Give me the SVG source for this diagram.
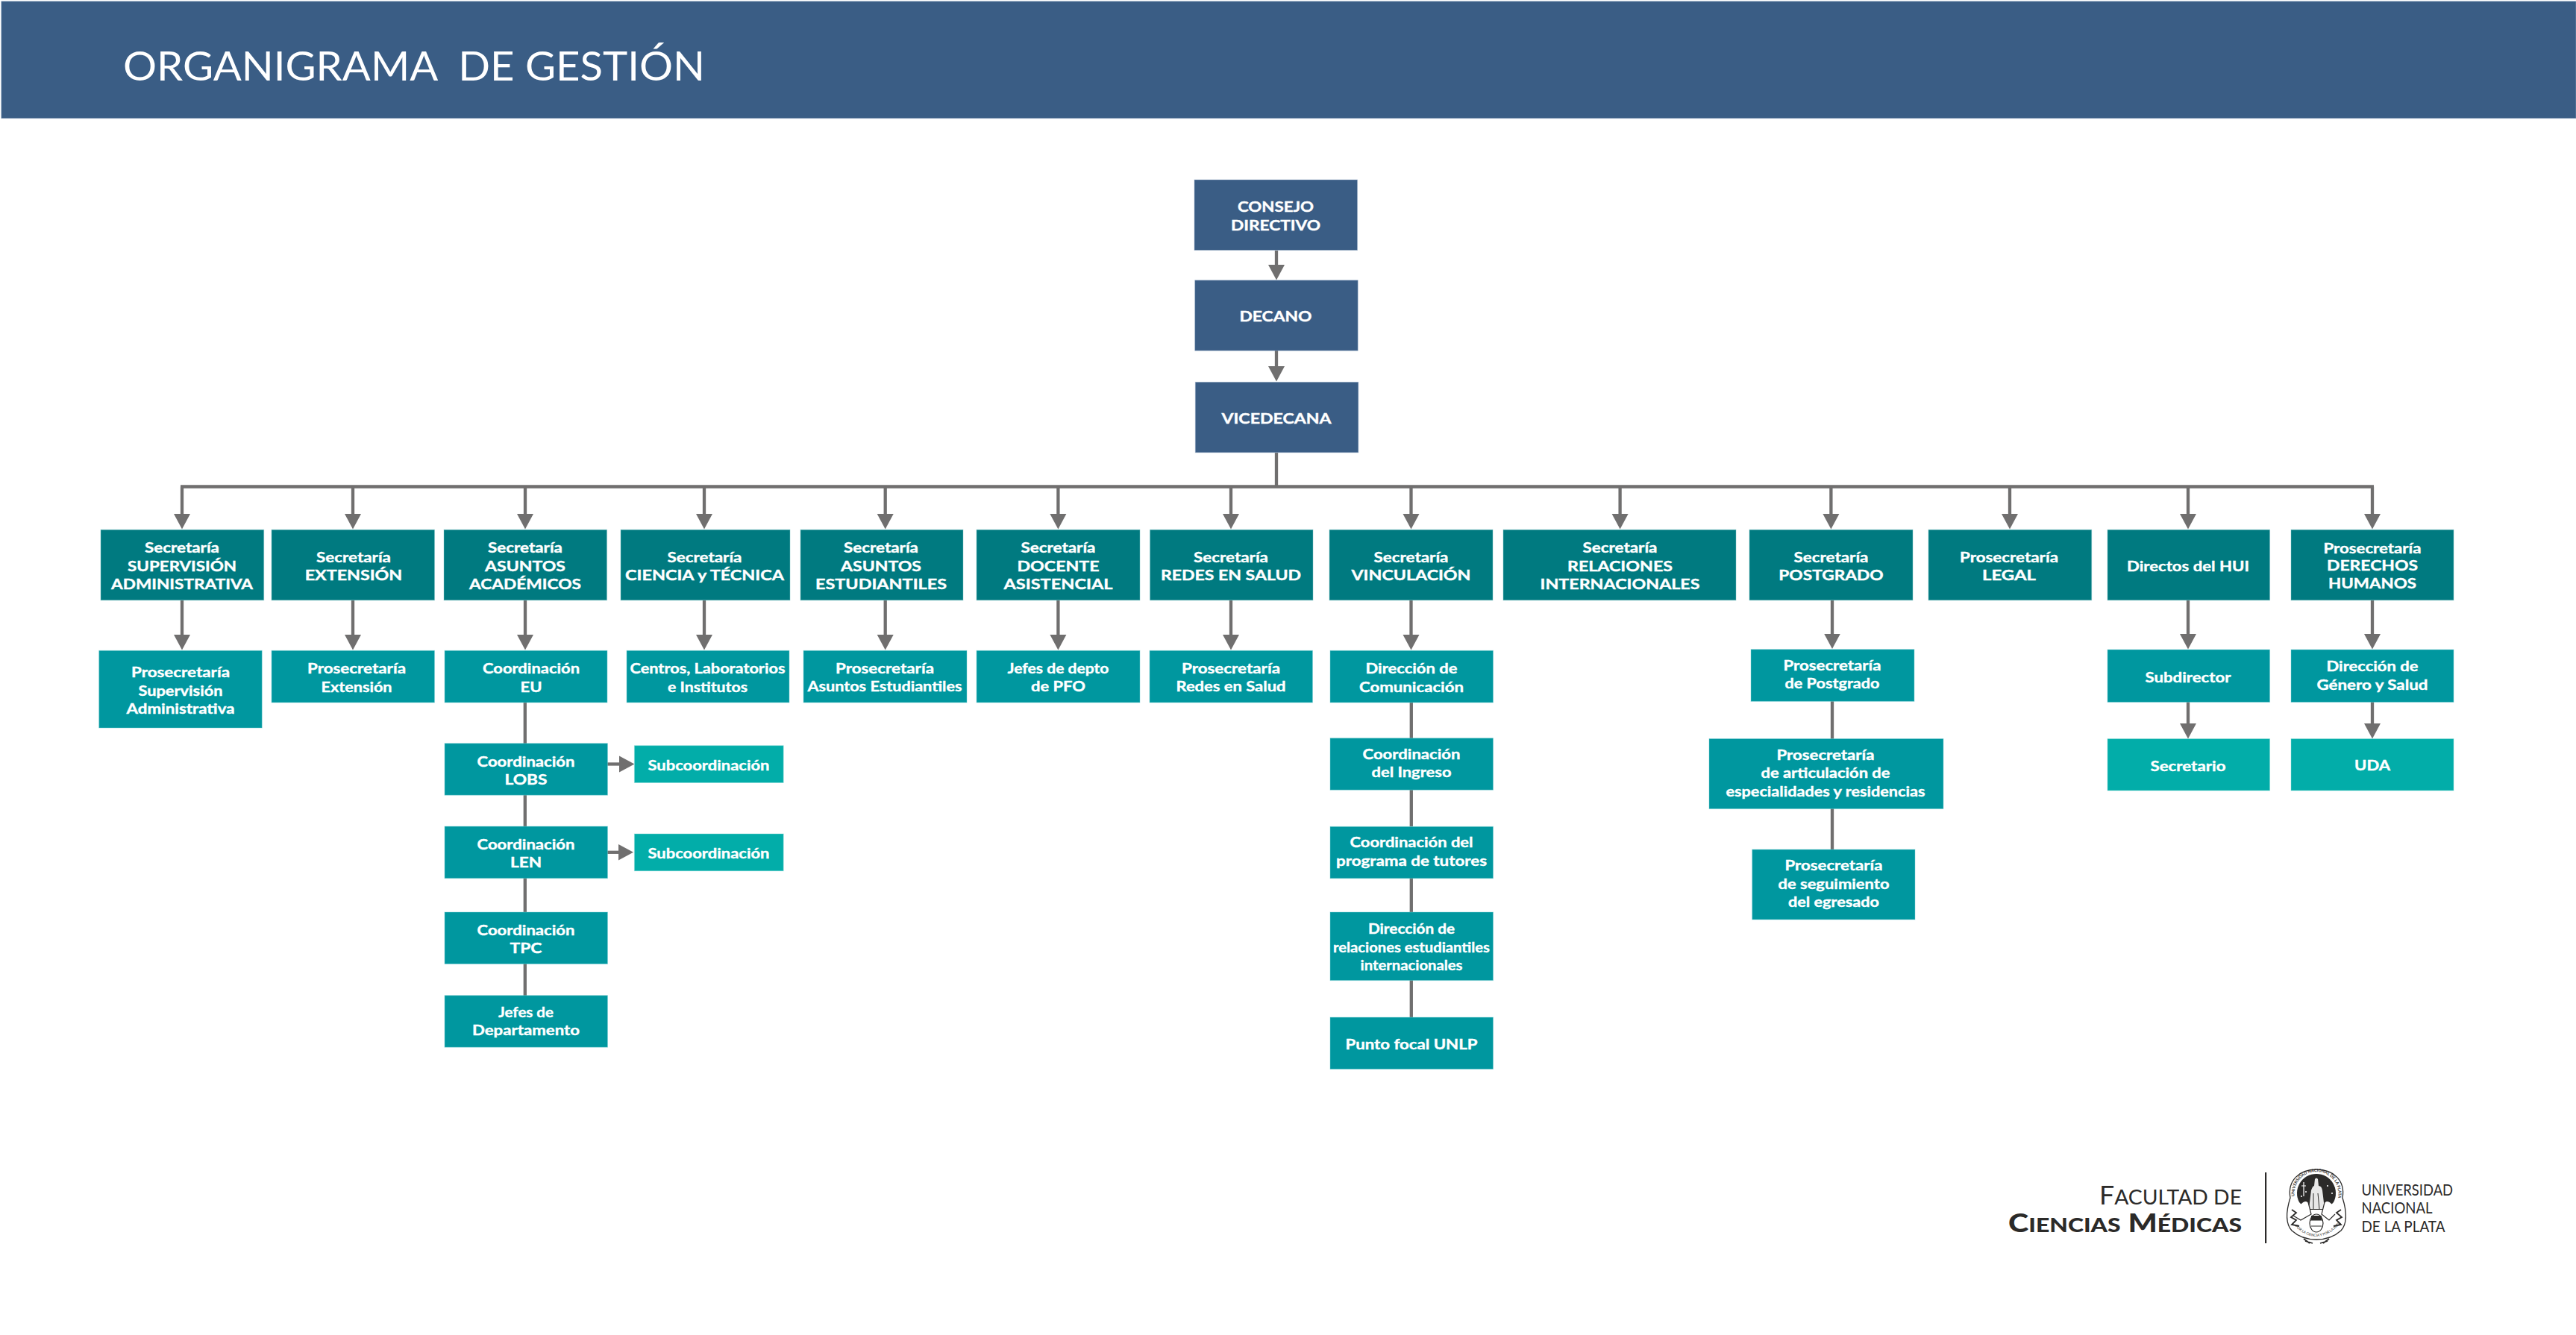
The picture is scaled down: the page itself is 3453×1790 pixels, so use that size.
<svg xmlns="http://www.w3.org/2000/svg" width="3453" height="1790" viewBox="0 0 3453 1790">
<style>
text{font-family:Lato,"Open Sans","Liberation Sans",sans-serif}
rect.l1,rect.l2,rect.l3,rect.l4{stroke-width:1;stroke-opacity:.45}
.l1{fill:#3a5d85;stroke:#9fb4cc}.l2{fill:#007a80;stroke:#7fc4c6}.l3{fill:#00979f;stroke:#7fd0d4}.l4{fill:#02ada9;stroke:#8adcd8}
.t{fill:#fff;font-size:19.5px;font-weight:700;text-anchor:middle;stroke:#fff;stroke-width:.4;transform:translateY(1px)}
.c{stroke:#706f6f;stroke-width:4.3;fill:none}
.a{stroke:#706f6f;stroke-width:4.3;fill:none;marker-end:url(#h)}
.logo{fill:#2b2a29;text-anchor:end}
.un{fill:#2b2a29;font-size:22px;font-weight:400}
</style>
<defs><marker id="h" markerUnits="userSpaceOnUse" markerWidth="22" markerHeight="24" refX="1" refY="12" orient="auto" viewBox="0 0 22 24"><path d="M0 1L20.500 12L0 23Z" fill="#706f6f"/></marker>
<path id="arcT" d="M3076 1606A29.500 29.500 0 1 1 3134 1606"/>
<path id="arcB" d="M3072 1640Q3105 1676 3138 1640"/></defs>
<rect width="3453" height="1790" fill="#fff"/>
<g id="header"><rect class="l1" x="1.700" y="1.700" width="3451.300" height="157"/>
<text x="165" y="108.300" xml:space="preserve" fill="#fff" font-size="55" textLength="780" lengthAdjust="spacingAndGlyphs">ORGANIGRAMA  DE GESTIÓN</text></g>
<g id="connectors">
<path class="c" d="M1711 607V652.500M242 652.500H3182"/>
<path class="a" d="M244 652.500V690"/><path class="a" d="M473 652.500V690"/><path class="a" d="M704 652.500V690"/><path class="a" d="M944 652.500V690"/><path class="a" d="M1186.700 652.500V690"/><path class="a" d="M1418.400 652.500V690"/><path class="a" d="M1650 652.500V690"/><path class="a" d="M1891.500 652.500V690"/><path class="a" d="M2171.600 652.500V690"/><path class="a" d="M2454.400 652.500V690"/><path class="a" d="M2694 652.500V690"/><path class="a" d="M2933 652.500V690"/><path class="a" d="M3180 652.500V690"/>
<path class="a" d="M1711 336V356"/><path class="a" d="M1711 470V492"/>
<path class="a" d="M244 805V852"/><path class="a" d="M473 805V852"/><path class="a" d="M704 805V852"/><path class="a" d="M944 805V852"/><path class="a" d="M1186.700 805V852"/><path class="a" d="M1418.400 805V852"/><path class="a" d="M1650 805V852"/><path class="a" d="M1891.500 805V852"/><path class="a" d="M2456 805V850.500"/><path class="a" d="M2933 805V851"/><path class="a" d="M3180 805V851"/>
<path class="a" d="M2933 941V971"/><path class="a" d="M3180 941V971"/>
<path class="a" d="M814 1024.500H831"/><path class="a" d="M814 1142.800H829.500"/>
<path class="c" d="M703.800 942V997M703.800 1066V1108M703.800 1177V1223M703.800 1292V1335"/>
<path class="c" d="M1891.800 942V990M1891.800 1059V1108M1891.800 1177V1223M1891.800 1314V1364"/>
<path class="c" d="M2456 940V991M2456 1084V1139"/>
</g>
<g id="consejo"><rect class="l1" x="1601" y="241" width="218.500" height="94.500"/><text class="t" x="1710" y="283.300" textLength="102" lengthAdjust="spacingAndGlyphs">CONSEJO</text><text class="t" x="1710" y="308.300" textLength="120" lengthAdjust="spacingAndGlyphs">DIRECTIVO</text></g>
<g id="decano"><rect class="l1" x="1601.700" y="375.700" width="218.500" height="94.500"/><text class="t" x="1710" y="430" textLength="97" lengthAdjust="spacingAndGlyphs">DECANO</text></g>
<g id="vicedecana"><rect class="l1" x="1602.300" y="512.300" width="218.500" height="94.500"/><text class="t" x="1711" y="566.700" textLength="147" lengthAdjust="spacingAndGlyphs">VICEDECANA</text></g>

<g id="sec-supervision"><rect class="l2" x="135" y="710.300" width="218.700" height="94.500"/><text class="t" x="244" y="740" textLength="100" lengthAdjust="spacingAndGlyphs">Secretaría</text><text class="t" x="244" y="765" textLength="146" lengthAdjust="spacingAndGlyphs">SUPERVISIÓN</text><text class="t" x="244" y="789.300" textLength="190" lengthAdjust="spacingAndGlyphs">ADMINISTRATIVA</text></g>
<g id="sec-extension"><rect class="l2" x="364" y="710.300" width="218.500" height="94.500"/><text class="t" x="474" y="753" textLength="100" lengthAdjust="spacingAndGlyphs">Secretaría</text><text class="t" x="474" y="777" textLength="130.500" lengthAdjust="spacingAndGlyphs">EXTENSIÓN</text></g>
<g id="sec-academicos"><rect class="l2" x="595" y="710.300" width="218.500" height="94.500"/><text class="t" x="704" y="740" textLength="100" lengthAdjust="spacingAndGlyphs">Secretaría</text><text class="t" x="704" y="765" textLength="108" lengthAdjust="spacingAndGlyphs">ASUNTOS</text><text class="t" x="704" y="789.300" textLength="150" lengthAdjust="spacingAndGlyphs">ACADÉMICOS</text></g>
<g id="sec-ciencia"><rect class="l2" x="832" y="710.300" width="227" height="94.500"/><text class="t" x="944.500" y="753" textLength="100" lengthAdjust="spacingAndGlyphs">Secretaría</text><text class="t" x="944.500" y="777" textLength="213" lengthAdjust="spacingAndGlyphs">CIENCIA y TÉCNICA</text></g>
<g id="sec-estudiantiles"><rect class="l2" x="1073" y="710.300" width="218" height="94.500"/><text class="t" x="1181" y="740" textLength="100" lengthAdjust="spacingAndGlyphs">Secretaría</text><text class="t" x="1181" y="764.500" textLength="108" lengthAdjust="spacingAndGlyphs">ASUNTOS</text><text class="t" x="1181" y="789" textLength="176" lengthAdjust="spacingAndGlyphs">ESTUDIANTILES</text></g>
<g id="sec-docente"><rect class="l2" x="1309" y="710.300" width="219" height="94.500"/><text class="t" x="1418.500" y="740" textLength="100" lengthAdjust="spacingAndGlyphs">Secretaría</text><text class="t" x="1418.500" y="764.500" textLength="110" lengthAdjust="spacingAndGlyphs">DOCENTE</text><text class="t" x="1418.500" y="789" textLength="146" lengthAdjust="spacingAndGlyphs">ASISTENCIAL</text></g>
<g id="sec-redes"><rect class="l2" x="1541.500" y="710.300" width="218.500" height="94.500"/><text class="t" x="1650" y="752.500" textLength="100" lengthAdjust="spacingAndGlyphs">Secretaría</text><text class="t" x="1650" y="776.500" textLength="188" lengthAdjust="spacingAndGlyphs">REDES EN SALUD</text></g>
<g id="sec-vinculacion"><rect class="l2" x="1782" y="710.300" width="219" height="94.500"/><text class="t" x="1891.500" y="752.500" textLength="100" lengthAdjust="spacingAndGlyphs">Secretaría</text><text class="t" x="1891.500" y="776.500" textLength="160" lengthAdjust="spacingAndGlyphs">VINCULACIÓN</text></g>
<g id="sec-relaciones"><rect class="l2" x="2015" y="710.300" width="312" height="94.500"/><text class="t" x="2171.500" y="740" textLength="100" lengthAdjust="spacingAndGlyphs">Secretaría</text><text class="t" x="2171.500" y="764.500" textLength="141" lengthAdjust="spacingAndGlyphs">RELACIONES</text><text class="t" x="2171.500" y="789" textLength="214" lengthAdjust="spacingAndGlyphs">INTERNACIONALES</text></g>
<g id="sec-postgrado"><rect class="l2" x="2345" y="710.300" width="219" height="94.500"/><text class="t" x="2454.500" y="752.700" textLength="100" lengthAdjust="spacingAndGlyphs">Secretaría</text><text class="t" x="2454.500" y="776.800" textLength="140.400" lengthAdjust="spacingAndGlyphs">POSTGRADO</text></g>
<g id="pro-legal"><rect class="l2" x="2585" y="710.300" width="218.700" height="94.500"/><text class="t" x="2693" y="752.700" textLength="132" lengthAdjust="spacingAndGlyphs">Prosecretaría</text><text class="t" x="2693" y="776.800" textLength="72" lengthAdjust="spacingAndGlyphs">LEGAL</text></g>
<g id="directos-hui"><rect class="l2" x="2825" y="710.300" width="217.600" height="94.500"/><text class="t" x="2933" y="765" textLength="164" lengthAdjust="spacingAndGlyphs">Directos del HUI</text></g>
<g id="pro-ddhh"><rect class="l2" x="3071" y="710.300" width="218" height="94.500"/><text class="t" x="3180" y="740.600" textLength="131" lengthAdjust="spacingAndGlyphs">Prosecretaría</text><text class="t" x="3180" y="764.300" textLength="122" lengthAdjust="spacingAndGlyphs">DERECHOS</text><text class="t" x="3180" y="788.300" textLength="118" lengthAdjust="spacingAndGlyphs">HUMANOS</text></g>

<g id="pro-supervision"><rect class="l3" x="132.700" y="872.300" width="218.500" height="103.700"/><text class="t" x="242" y="906.700" textLength="132" lengthAdjust="spacingAndGlyphs">Prosecretaría</text><text class="t" x="242" y="931.500" textLength="113" lengthAdjust="spacingAndGlyphs">Supervisión</text><text class="t" x="242" y="955.700" textLength="145" lengthAdjust="spacingAndGlyphs">Administrativa</text></g>
<g id="pro-extension"><rect class="l3" x="364" y="872.300" width="218.500" height="69.700"/><text class="t" x="478" y="902.400" textLength="132" lengthAdjust="spacingAndGlyphs">Prosecretaría</text><text class="t" x="478" y="926.600" textLength="95" lengthAdjust="spacingAndGlyphs">Extensión</text></g>
<g id="coord-eu"><rect class="l3" x="596" y="872.300" width="218" height="69.700"/><text class="t" x="712" y="902.400" textLength="130" lengthAdjust="spacingAndGlyphs">Coordinación</text><text class="t" x="712" y="926.600" textLength="29" lengthAdjust="spacingAndGlyphs">EU</text></g>
<g id="centros"><rect class="l3" x="840" y="872.300" width="218" height="69.700"/><text class="t" x="948.500" y="902.400" textLength="208" lengthAdjust="spacingAndGlyphs">Centros, Laboratorios</text><text class="t" x="948.500" y="926.600" textLength="107" lengthAdjust="spacingAndGlyphs">e Institutos</text></g>
<g id="pro-estudiantiles"><rect class="l3" x="1077" y="872.300" width="219" height="69.700"/><text class="t" x="1186" y="901.500" textLength="132" lengthAdjust="spacingAndGlyphs">Prosecretaría</text><text class="t" x="1186" y="926" textLength="207" lengthAdjust="spacingAndGlyphs">Asuntos Estudiantiles</text></g>
<g id="jefes-pfo"><rect class="l3" x="1309" y="872.300" width="219" height="69.700"/><text class="t" x="1418.500" y="901.500" textLength="136" lengthAdjust="spacingAndGlyphs">Jefes de depto</text><text class="t" x="1418.500" y="926" textLength="73" lengthAdjust="spacingAndGlyphs">de PFO</text></g>
<g id="pro-redes"><rect class="l3" x="1541" y="872.300" width="218.500" height="69.700"/><text class="t" x="1650" y="901.500" textLength="132" lengthAdjust="spacingAndGlyphs">Prosecretaría</text><text class="t" x="1650" y="926" textLength="147" lengthAdjust="spacingAndGlyphs">Redes en Salud</text></g>
<g id="dir-comunicacion"><rect class="l3" x="1783" y="872.300" width="218.500" height="69.700"/><text class="t" x="1892" y="902" textLength="123" lengthAdjust="spacingAndGlyphs">Dirección de</text><text class="t" x="1892" y="927" textLength="140" lengthAdjust="spacingAndGlyphs">Comunicación</text></g>
<g id="coord-ingreso"><rect class="l3" x="1783" y="989.700" width="218.500" height="69.500"/><text class="t" x="1892" y="1017" textLength="131" lengthAdjust="spacingAndGlyphs">Coordinación</text><text class="t" x="1892" y="1041" textLength="107" lengthAdjust="spacingAndGlyphs">del Ingreso</text></g>
<g id="coord-tutores"><rect class="l3" x="1783" y="1108.300" width="218.500" height="69.500"/><text class="t" x="1892" y="1135" textLength="165" lengthAdjust="spacingAndGlyphs">Coordinación del</text><text class="t" x="1892" y="1160" textLength="202" lengthAdjust="spacingAndGlyphs">programa de tutores</text></g>
<g id="dir-relaciones"><rect class="l3" x="1783" y="1223" width="218.500" height="91.600"/><text class="t" x="1892" y="1251" textLength="116" lengthAdjust="spacingAndGlyphs">Dirección de</text><text class="t" x="1892" y="1275.600" textLength="210" lengthAdjust="spacingAndGlyphs">relaciones estudiantiles</text><text class="t" x="1892" y="1300" textLength="137" lengthAdjust="spacingAndGlyphs">internacionales</text></g>
<g id="punto-focal"><rect class="l3" x="1783" y="1364" width="218.500" height="69.500"/><text class="t" x="1892" y="1405.600" textLength="177" lengthAdjust="spacingAndGlyphs">Punto focal UNLP</text></g>

<g id="coord-lobs"><rect class="l3" x="596" y="996.700" width="218.500" height="69.500"/><text class="t" x="705" y="1026.700" textLength="131" lengthAdjust="spacingAndGlyphs">Coordinación</text><text class="t" x="705" y="1051" textLength="57" lengthAdjust="spacingAndGlyphs">LOBS</text></g>
<g id="coord-len"><rect class="l3" x="596" y="1108" width="218.500" height="69.700"/><text class="t" x="705" y="1138.300" textLength="131" lengthAdjust="spacingAndGlyphs">Coordinación</text><text class="t" x="705" y="1162.300" textLength="42" lengthAdjust="spacingAndGlyphs">LEN</text></g>
<g id="coord-tpc"><rect class="l3" x="596" y="1223" width="218.500" height="69.500"/><text class="t" x="705" y="1253.300" textLength="131" lengthAdjust="spacingAndGlyphs">Coordinación</text><text class="t" x="705" y="1277.300" textLength="43" lengthAdjust="spacingAndGlyphs">TPC</text></g>
<g id="jefes-dep"><rect class="l3" x="596" y="1334.700" width="218.500" height="69.500"/><text class="t" x="705" y="1362.700" textLength="74" lengthAdjust="spacingAndGlyphs">Jefes de</text><text class="t" x="705" y="1387" textLength="144" lengthAdjust="spacingAndGlyphs">Departamento</text></g>
<g id="subcoord-1"><rect class="l4" x="850.400" y="999.700" width="199.800" height="49.800"/><text class="t" x="950" y="1031.700" textLength="163" lengthAdjust="spacingAndGlyphs">Subcoordinación</text></g>
<g id="subcoord-2"><rect class="l4" x="850.400" y="1118" width="199.800" height="49.800"/><text class="t" x="950" y="1150" textLength="163" lengthAdjust="spacingAndGlyphs">Subcoordinación</text></g>

<g id="pro-postgrado"><rect class="l3" x="2347" y="870.700" width="219" height="69.700"/><text class="t" x="2456" y="898" textLength="131" lengthAdjust="spacingAndGlyphs">Prosecretaría</text><text class="t" x="2456" y="922" textLength="127" lengthAdjust="spacingAndGlyphs">de Postgrado</text></g>
<g id="pro-articulacion"><rect class="l3" x="2291" y="990.500" width="314" height="94"/><text class="t" x="2447" y="1018" textLength="131" lengthAdjust="spacingAndGlyphs">Prosecretaría</text><text class="t" x="2447" y="1042.400" textLength="173" lengthAdjust="spacingAndGlyphs">de articulación de</text><text class="t" x="2447" y="1066.500" textLength="267" lengthAdjust="spacingAndGlyphs">especialidades y residencias</text></g>
<g id="pro-seguimiento"><rect class="l3" x="2348.700" y="1139" width="218.300" height="94"/><text class="t" x="2458" y="1166" textLength="131" lengthAdjust="spacingAndGlyphs">Prosecretaría</text><text class="t" x="2458" y="1191" textLength="149" lengthAdjust="spacingAndGlyphs">de seguimiento</text><text class="t" x="2458" y="1215" textLength="122" lengthAdjust="spacingAndGlyphs">del egresado</text></g>
<g id="subdirector"><rect class="l3" x="2825" y="871" width="217.600" height="70.500"/><text class="t" x="2933" y="914" textLength="115" lengthAdjust="spacingAndGlyphs">Subdirector</text></g>
<g id="dir-genero"><rect class="l3" x="3071" y="871" width="218" height="70.500"/><text class="t" x="3180" y="899" textLength="123" lengthAdjust="spacingAndGlyphs">Dirección de</text><text class="t" x="3180" y="923.600" textLength="149" lengthAdjust="spacingAndGlyphs">Género y Salud</text></g>
<g id="secretario"><rect class="l4" x="2825" y="990.600" width="217.600" height="69.400"/><text class="t" x="2933" y="1033" textLength="101" lengthAdjust="spacingAndGlyphs">Secretario</text></g>
<g id="uda"><rect class="l4" x="3071" y="990.600" width="218" height="69.400"/><text class="t" x="3180" y="1032" textLength="48" lengthAdjust="spacingAndGlyphs">UDA</text></g>

<g id="logo">
<text class="logo" x="3005" y="1614.700" font-size="34" font-weight="400" textLength="191" lengthAdjust="spacingAndGlyphs">F<tspan font-size="27">ACULTAD DE</tspan></text>
<text class="logo" x="3005" y="1651.700" font-size="35" font-weight="900" textLength="313" lengthAdjust="spacingAndGlyphs">C<tspan font-size="27">IENCIAS</tspan> M<tspan font-size="27">ÉDICAS</tspan></text>
<rect x="3036" y="1572" width="2.200" height="95" fill="#2b2a29"/>
<text class="un" x="3165.500" y="1603" textLength="122.600" lengthAdjust="spacingAndGlyphs">UNIVERSIDAD</text><text class="un" x="3165.500" y="1627" textLength="95" lengthAdjust="spacingAndGlyphs">NACIONAL</text><text class="un" x="3165.500" y="1651.700" textLength="112" lengthAdjust="spacingAndGlyphs">DE LA PLATA</text>
<g id="seal" fill="none" stroke="#2b2a29">
<path d="M3070 1606C3066 1583 3082 1568 3105 1568C3128 1568 3144 1583 3140 1606C3146 1625 3147 1640 3138 1650C3127 1660 3115 1662 3105 1662C3095 1662 3083 1660 3072 1650C3063 1640 3064 1625 3070 1606Z" stroke-width="1.300" fill="#fff"/>
<path d="M3082 1612A26 26 0 1 1 3128 1612L3118 1622H3092Z" fill="#2b2a29" stroke="none"/>
<path d="M3095 1621L3098 1596Q3100 1590 3102 1590L3103 1581Q3105 1578 3107 1581L3108 1590Q3112 1590 3113 1596L3116 1621Z" fill="#e8e8e8" stroke="none"/>
<path d="M3101 1600V1621M3107 1600L3109 1621" stroke-width="1"/>
<path d="M3088 1585V1604M3085 1590H3091" stroke="#fff" stroke-width="1.200"/>
<circle cx="3091" cy="1598" r="1" fill="#fff" stroke="none"/><circle cx="3120" cy="1590" r="1" fill="#fff" stroke="none"/><circle cx="3126" cy="1600" r="1" fill="#fff" stroke="none"/><circle cx="3085" cy="1604" r="1" fill="#fff" stroke="none"/>
<path d="M3084 1614Q3090 1608 3094 1612L3098 1628L3084 1636L3074 1630" stroke-width="1.200" fill="#fff"/>
<path d="M3126 1614Q3120 1608 3116 1612L3112 1628L3122 1636L3130 1628" stroke-width="1.200" fill="#fff"/>
<ellipse cx="3105" cy="1640" rx="9" ry="12" stroke-width="1.200" fill="#fff"/>
<path d="M3097 1636H3113" stroke-width="1"/><path d="M3098 1630H3112V1636H3098Z" fill="#2b2a29" stroke="none"/><path d="M3098 1644H3112" stroke-width="1"/>
<path d="M3072 1622L3078 1626L3071 1632L3078 1636L3072 1642L3082 1644M3138 1622L3132 1626L3139 1632L3132 1636L3138 1642L3128 1644" stroke-width="1.800"/>
<path d="M3090 1664L3100 1667M3120 1664L3110 1667M3088 1661L3096 1667M3122 1661L3114 1667" stroke-width="1.800"/>
</g>
<text font-size="5.500" fill="#2b2a29" font-weight="700"><textPath href="#arcT" startOffset="2%">UNIVERSIDAD NACIONAL DE LA PLATA</textPath></text>
<text font-size="4.800" fill="#2b2a29"><textPath href="#arcB" startOffset="8%">POR LA CIENCIA Y POR LA PATRIA</textPath></text>
</g>
</svg>
